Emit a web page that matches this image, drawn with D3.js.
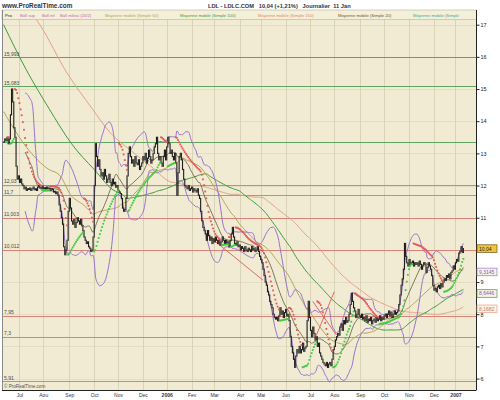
<!DOCTYPE html>
<html><head><meta charset="utf-8">
<script src="https://cdn.jsdelivr.net/npm/d3@7/dist/d3.min.js"></script>
<style>html,body{margin:0;padding:0;background:#fff;}svg{display:block;font-family:"Liberation Sans",Arial,sans-serif;}</style>
</head><body><svg id="chart" width="500" height="400"></svg>
<script>
// ================= DATA =================
const firstDay = "2005-06-13";
const lastDayLabel = "11 Jan";
const marketHolidays = ["2005-12-26","2006-04-14","2006-04-17","2006-05-01","2006-12-25","2006-12-26","2007-01-01"];
// daily closes
const closes = [
13.35,13.45,
13.4,13.5,13.3,13.45, 14.2,15.0,14.6, 13.8,13.5, 12.6,12.2,
12.3,12.1,12.2,12.05,12.0,
11.9,11.95,11.85,11.9,11.88,11.92,11.85,11.9,11.95,11.87,11.9,11.85,
11.95,12.0,11.92,11.9,11.98,11.9,11.93,11.88,11.95,11.9,11.92,11.85,11.9,11.88,
11.8,11.82,11.75,11.8,11.7,
11.4,11.2,11.0,10.8,
10.1,9.85,10.0,10.3,
11.2,11.6,11.3,10.9,
10.8,10.95,10.7,10.85,11.0,10.9,10.8,10.95,10.75,10.6,
10.4,10.3,10.2,10.25,10.1,10.05,
9.95,10.0,10.4,
12.0,13.3,12.9,
12.6,12.8,12.5,
12.3,12.4,12.2,12.5,12.3,12.1,12.2,12.35,12.1,12.0,12.2,12.05,12.1,11.95,12.0,
11.85,11.8,11.75,11.6,
11.3,11.2,11.25,11.6,
12.3,13.0,13.2,12.9,12.7,
12.8,12.6,12.9,12.7,12.65,12.8,12.5,
12.6,12.7,12.9,12.8,13.0,12.7,12.85,13.1,12.9,12.7,12.8,13.0,13.2,13.3,13.5,
13.0,12.8,12.9,12.7,12.6,12.9,13.1,12.8,
13.2,13.5,13.3,
13.0,13.1,12.9,12.8,13.0,12.7,
11.7,12.4,12.9,13.0,12.8,
12.5,12.2,12.0,11.95,
11.9,12.0,11.85,11.9,11.95,11.8,11.9,11.85,11.8,11.9,11.7,11.6,
11.2,10.9,10.7,10.6,
10.5,10.3,10.6,10.45,
10.3,10.4,10.2,10.35,10.25,10.4,10.3,10.2,10.3,10.15,10.25,10.4,10.3,10.2,10.3,
10.2,10.25,10.1,10.3,10.5,10.7,10.4,10.2,10.15,10.25,10.1,10.15,
10.0,10.1,10.05,9.95,10.1,10.0,9.95,10.05,10.0,9.95,10.1,10.0,10.05,9.95,10.0,10.1,9.95,
9.8,9.7,9.6,
9.4,9.2,9.0,8.9,8.7,8.6,8.4,8.3,8.2,8.0,7.9,7.85,
7.9,7.8,7.95,
8.2,8.0,8.1,7.9,8.05,8.15,7.95,8.0,7.8,
7.3,7.0,6.8,
6.6,6.35,6.7,6.9,6.8,7.0,
6.8,6.9,7.1,6.85,6.95,7.0,
7.8,8.4,7.9,
7.5,7.3,7.6,7.4,7.2,7.3,7.0,7.1,
6.8,6.7,6.6,
6.5,6.45,6.4,6.5,6.35,6.45,6.5,6.4,6.6,
6.9,7.0,7.2,
7.3,7.4,7.35,
7.6,7.7,7.5,7.8,7.7,7.9,7.75,7.8,8.0,
8.3,8.65,8.4,8.2,
8.1,7.9,8.0,8.15,7.95,7.9,8.0,
7.85,7.9,7.8,7.95,7.75,7.85,7.8,7.9,7.7,7.8,7.85,7.75,7.9,7.8,7.85,7.95,7.8,7.9,7.85,7.95,8.0,
7.9,8.0,8.1,7.95,8.05,7.9,8.0,8.1,8.0,8.05,8.1,8.3,
8.6,8.9,9.1,9.4,
10.2,9.8,
9.6,9.5,9.7,9.55,9.6,9.65,9.5,9.6,9.55,
9.6,9.5,9.65,9.55,9.4,9.5,9.6,9.55,9.3,9.45,9.6,9.5,9.4,9.2,
8.9,8.75,8.8,8.7,
8.85,8.9,8.8,8.95,8.85,9.0,
9.1,9.05,9.2,9.15,9.25,9.1,9.3,
9.35,9.5,9.4,9.6,9.7,9.65,
9.9,9.95,10.1,9.92,10.04
];
const monthNames = ["Jan","Fev","Mar","Avr","Mai","Jun","Jul","Aou","Sep","Oct","Nov","Dec"];
const yTicks = [6,7,8,9,10,11,12,13,14,15,16,17];
const hiddenTickLabels = [10];
const greenLevels = [15.993, 15.083, 13.35];
const greenLevelLabels = ["15,993","15,083",""];
const redLevels = [12.03, 11.7, 11.003, 10.012, 7.95, 7.3, 5.91];
const redLevelLabels = ["12,03","11,7","11,003","10,012","7,95","7,3","5,91"];
// hand-drawn trend lines: start day, start value, end day, end value
const trendStartDay = [180, 276, 273];
const trendStartVal = [10.46, 7.33, 8.4];
const trendEndDay = [229, 292, 294];
const trendEndVal = [9.06, 8.7, 7.35];
// values of the long moving averages before their window is complete
const ma50EarlyDays = [0, 20, 40];
const ma50Early = [14.3, 13.2, 12.5];
const ma100EarlyDays = [0, 20, 40, 60, 80];
const ma100Early = [17.0, 15.6, 14.4, 13.3, 12.5];
const ma150EarlyDays = [10, 32, 56, 78, 94, 112, 130];
const ma150Early = [18.0, 17.0, 15.5, 14.4, 13.65, 13.1, 12.6];
const lastValues = [10.04, 9.3145, 8.6446, 8.1682];
const lastValueLabels = ["10,04", "9,3145", "8,6446", "8,1682"];
const legendLabels = ["Prix","Boll sup","Boll inf","Boll milieu (20/2)","Moyenne mobile (Simple 50)","Moyenne mobile (Simple 100)","Moyenne mobile (Simple 150)","Moyenne mobile (Simple 20)","Moyenne mobile (Simple"];
const titleText = "LDL - LDLC.COM   10,04 (+1,21%)   Journalier  " + lastDayLabel;

// ================= STYLE =================
const C = {
  bg:"#f0ebd2", grid:"#d9d3b8", red:"#d98379", green:"#5ea55e",
  candle:"#1c1c1c", boll:"#9a72cc", ma20:"#5c5a3c", ma50:"#b4a458",
  ma100:"#3f9a3f", ma150:"#e3a088", sarUp:"#3fcc3f", sarDown:"#e25a5a",
  teal:"#49a6a0", trend:"#e06a6a"
};
const legendColors = ["#222","#c06aa8","#c06aa8","#c06aa8",C.ma50,"#3f9a3f","#e08a6a","#5c5a3c",C.teal];
const legendX = [5,20,42,60,105,180,258,338,413];

// ================= HELPERS =================
const fmtD = d3.timeFormat("%Y-%m-%d");
const dates = [];
{
  const d = d3.timeParse("%Y-%m-%d")(firstDay);
  while (dates.length < closes.length) {
    const wd = d.getDay();
    if (wd !== 0 && wd !== 6 && !marketHolidays.includes(fmtD(d))) dates.push(new Date(d));
    d.setDate(d.getDate() + 1);
  }
}
function sma(arr, n) {
  return arr.map((_, i) => i < n - 1 ? null : d3.mean(arr.slice(i - n + 1, i + 1)));
}
function bollinger(arr, n, k) {
  return arr.map((_, i) => {
    if (i < n - 1) return null;
    const s = arr.slice(i - n + 1, i + 1), m = d3.mean(s);
    const sd = Math.sqrt(d3.mean(s.map(v => (v - m) ** 2)));
    return {mid: m, up: m + k * sd, lo: m - k * sd};
  });
}
function parabolicSAR(c, step, maxAf) {
  const out = new Array(c.length).fill(null);
  let up = c[1] >= c[0];
  let sar = up ? Math.min(c[0], c[1]) : Math.max(c[0], c[1]);
  let ep = up ? Math.max(c[0], c[1]) : Math.min(c[0], c[1]);
  let af = step;
  for (let t = 2; t < c.length; t++) {
    sar = sar + af * (ep - sar);
    if (up) {
      sar = Math.min(sar, c[t - 1], c[t - 2]);
      if (c[t] < sar) { up = false; sar = ep; ep = c[t]; af = step; }
      else if (c[t] > ep) { ep = c[t]; af = Math.min(af + step, maxAf); }
    } else {
      sar = Math.max(sar, c[t - 1], c[t - 2]);
      if (c[t] > sar) { up = true; sar = ep; ep = c[t]; af = step; }
      else if (c[t] < ep) { ep = c[t]; af = Math.min(af + step, maxAf); }
    }
    out[t] = {v: sar, up};
  }
  return out;
}
function joinEarly(days, vals, computed) {
  const pts = days.map((d, j) => [d, vals[j]]);
  computed.forEach((v, i) => { if (v != null) pts.push([i, v]); });
  return pts;
}

// ================= LAYOUT =================
const P = {l: 2, r: 476.5, t: 10, b: 390};
const x = d3.scaleLinear().domain([-1.41, 417.6]).range([P.l, P.r]);
const y = d3.scaleLinear().domain([5.645, 17.457]).range([P.b, P.t]);

const svg = d3.select("#chart");
svg.append("rect").attr("width", 500).attr("height", 400).attr("fill", "#fff");
svg.append("defs").append("clipPath").attr("id", "clip")
  .append("rect").attr("x", P.l).attr("y", P.t).attr("width", P.r - P.l).attr("height", P.b - P.t);
svg.append("rect").attr("x", P.l).attr("y", P.t).attr("width", P.r - P.l).attr("height", P.b - P.t).attr("fill", C.bg);

const g = svg.append("g").attr("clip-path", "url(#clip)");

// month ticks
const monthIdx = [];
dates.forEach((d, i) => { if (i > 0 && d.getMonth() !== dates[i - 1].getMonth()) monthIdx.push(i); });

g.selectAll(".vg").data(monthIdx).join("line")
  .attr("x1", i => Math.round(x(i)) + 0.5).attr("x2", i => Math.round(x(i)) + 0.5)
  .attr("y1", P.t).attr("y2", P.b).attr("stroke", C.grid).attr("stroke-width", 1);
g.selectAll(".hg").data(yTicks).join("line")
  .attr("x1", P.l).attr("x2", P.r)
  .attr("y1", v => Math.round(y(v)) + 0.5).attr("y2", v => Math.round(y(v)) + 0.5)
  .attr("stroke", C.grid).attr("stroke-width", 0.6);

// level lines
g.selectAll(".gl").data(greenLevels).join("line")
  .attr("x1", P.l).attr("x2", P.r)
  .attr("y1", v => Math.round(y(v)) + 0.5).attr("y2", v => Math.round(y(v)) + 0.5)
  .attr("stroke", C.green).attr("stroke-width", 1);
g.selectAll(".rl").data(redLevels).join("line")
  .attr("x1", P.l).attr("x2", P.r)
  .attr("y1", v => Math.round(y(v)) + 0.5).attr("y2", v => Math.round(y(v)) + 0.5)
  .attr("stroke", C.red).attr("stroke-width", 1);

// indicators
const ma20 = sma(closes, 20);
const ma50 = sma(closes, 50);
const ma100 = sma(closes, 100);
const ma150 = sma(closes, 150);
const bb = bollinger(closes, 20, 2);
const sar = parabolicSAR(closes, 0.02, 0.2);

const lineGen = d3.line().x(d => x(d[0])).y(d => y(d[1])).curve(d3.curveMonotoneX);
function drawLine(pts, color, w) {
  g.append("path").datum(pts).attr("d", lineGen).attr("fill", "none")
    .attr("stroke", color).attr("stroke-width", w).attr("stroke-linejoin", "round");
}
drawLine(joinEarly(ma150EarlyDays, ma150Early, ma150), C.ma150, 1);
drawLine(joinEarly(ma100EarlyDays, ma100Early, ma100), C.ma100, 1);
drawLine(joinEarly(ma50EarlyDays, ma50Early, ma50), C.ma50, 1);
drawLine(joinEarly([], [], ma20), C.ma20, 0.8);
drawLine(joinEarly([], [], bb.map(b => b && b.up)), C.boll, 1);
drawLine(joinEarly([], [], bb.map(b => b && b.lo)), C.boll, 1);

// hand-drawn trend lines
g.selectAll(".tl").data(trendStartDay).join("line")
  .attr("x1", (d, j) => x(d)).attr("y1", (d, j) => y(trendStartVal[j]))
  .attr("x2", (d, j) => x(trendEndDay[j])).attr("y2", (d, j) => y(trendEndVal[j]))
  .attr("stroke", C.trend).attr("stroke-width", 1);

// candles (open = previous close)
g.selectAll(".bar").data(closes).join("rect")
  .attr("x", (c, i) => x(i) - 0.55)
  .attr("width", 1.1)
  .attr("y", (c, i) => y(Math.max(c, i ? closes[i - 1] : c)) - 0.6)
  .attr("height", (c, i) => Math.abs(y(c) - y(i ? closes[i - 1] : c)) + 1.2)
  .attr("fill", C.candle);

// parabolic SAR
g.selectAll(".sar").data(sar.map((s, i) => s ? {i, ...s} : null).filter(Boolean)).join("rect")
  .attr("x", d => x(d.i) - 0.9).attr("y", d => y(d.v) - 0.9)
  .attr("width", 1.8).attr("height", 1.8)
  .attr("fill", d => d.up ? C.sarUp : C.sarDown);

// level labels on left
const lvlVals = greenLevels.concat(redLevels), lvlLabs = greenLevelLabels.concat(redLevelLabels);
svg.selectAll(".ll").data(lvlVals.map((v, j) => ({v, t: lvlLabs[j]})).filter(d => d.t)).join("text")
  .attr("x", 4).attr("y", d => y(d.v) - 1.5).attr("font-size", 5).attr("fill", "#4a4a4a").text(d => d.t);

svg.append("text").attr("x", 4).attr("y", 388).attr("font-size", 4.6).attr("fill", "#555").text("\u00A9 ProRealTime.com");

// legend strip
svg.append("rect").attr("x", P.l).attr("y", P.t).attr("width", P.r - P.l).attr("height", 9.5)
  .attr("fill", "#f3efd9").attr("stroke", "#b9b39a").attr("stroke-width", 0.6);
svg.selectAll(".lg").data(legendLabels).join("text")
  .attr("x", (t, j) => legendX[j]).attr("y", 17.2).attr("font-size", 4.2)
  .attr("fill", (t, j) => legendColors[j]).text(t => t);

// frame / axes
svg.append("line").attr("x1", P.l + 0.5).attr("x2", P.l + 0.5).attr("y1", P.t).attr("y2", P.b).attr("stroke", "#8a8a8a");
svg.append("line").attr("x1", P.r).attr("x2", P.r).attr("y1", P.t).attr("y2", P.b).attr("stroke", "#222");
svg.append("line").attr("x1", P.l).attr("x2", P.r).attr("y1", P.b + 0.5).attr("y2", P.b + 0.5).attr("stroke", "#222");

const yAxis = d3.axisRight(y).tickValues(yTicks).tickSize(3)
  .tickFormat(v => hiddenTickLabels.includes(v) ? "" : d3.format("d")(v));
const ya = svg.append("g").attr("transform", `translate(${P.r},0)`).call(yAxis);
ya.select(".domain").remove();
ya.selectAll("text").attr("font-size", 5.5).attr("font-family", "Liberation Sans, Arial").attr("fill", "#222").attr("x", 4);
ya.selectAll("line").attr("stroke", "#222");

const xAxis = d3.axisBottom(x).tickValues(monthIdx).tickSize(0)
  .tickFormat(i => dates[i].getMonth() === 0 ? String(dates[i].getFullYear()) : monthNames[dates[i].getMonth()]);
const xa = svg.append("g").attr("transform", `translate(0,${P.b})`).call(xAxis);
xa.select(".domain").remove();
xa.selectAll("text").attr("font-size", 5).attr("font-family", "Liberation Sans, Arial").attr("fill", "#333").attr("dy", "0.55em").attr("y", 4)
  .attr("font-weight", i => dates[i].getMonth() === 0 ? "bold" : "normal");

// last value boxes
const boxBorder = ["#6b5414", C.boll, C.ma100, C.ma150];
const boxFill = ["#f2c243", "#f7f3e3", "#f7f3e3", "#f7f3e3"];
const boxText = ["#222", "#8a5ab8", "#8a5ab8", "#d07a60"];
const bx = svg.selectAll(".bx").data(lastValues).join("g").attr("transform", v => `translate(${P.r + 0.5},${y(v)})`);
bx.append("rect").attr("x", 0).attr("y", -3.8).attr("width", 20).attr("height", 7.6)
  .attr("fill", (v, j) => boxFill[j]).attr("stroke", (v, j) => boxBorder[j]).attr("stroke-width", 0.7);
bx.append("text").attr("x", 2).attr("y", 1.9).attr("font-size", 5).attr("fill", (v, j) => boxText[j]).text((v, j) => lastValueLabels[j]);

// titles
svg.append("text").attr("x", 2).attr("y", 7.5).attr("font-size", 6.4).attr("font-weight", "bold").attr("fill", "#333").text("www.ProRealTime.com");
svg.append("text").attr("x", 208).attr("y", 7.5).attr("font-size", 5.7).attr("font-weight", "bold").attr("fill", "#333")
  .attr("xml:space", "preserve").style("white-space", "pre").text(titleText);
</script></body></html>
